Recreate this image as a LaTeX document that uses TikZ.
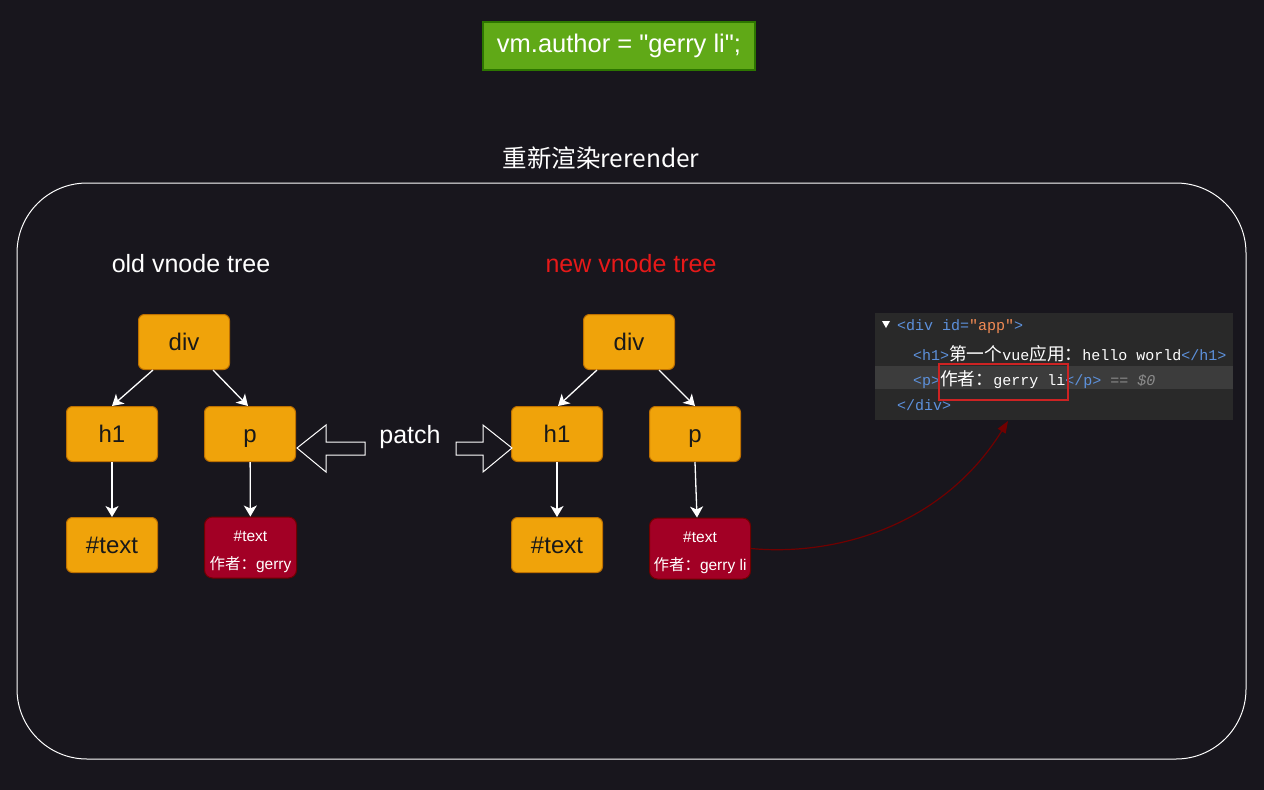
\documentclass[tikz,border=0pt]{standalone}
\usepackage{fontspec}
\setmainfont{Liberation Sans}[Ligatures=TeXOff]
\setmonofont{Liberation Mono}
\newfontfamily\cjk{Noto Sans CJK SC}
\usetikzlibrary{arrows.meta}

\definecolor{fondo}{RGB}{24,22,29}
\definecolor{naranja}{HTML}{F0A30A}
\definecolor{naranjaborde}{HTML}{BD7000}
\definecolor{rojo}{HTML}{A20025}
\definecolor{rojoborde}{HTML}{6F0000}
\definecolor{verde}{HTML}{60A917}
\definecolor{verdeborde}{HTML}{2D7600}
\definecolor{titulorojo}{RGB}{230,25,25}
\definecolor{panel}{RGB}{41,41,41}
\definecolor{panelfila}{RGB}{60,60,60}
\definecolor{tagazul}{RGB}{93,145,220}
\definecolor{attnaranja}{RGB}{242,139,84}
\definecolor{gristxt}{RGB}{140,140,140}
\definecolor{marcorojo}{RGB}{205,35,35}
\definecolor{curva}{RGB}{112,0,0}

\newcommand{\zhcod}[1]{{\cjk\fontsize{17.7}{18}\selectfont #1}}

\begin{document}
\begin{tikzpicture}[x=1pt,y=-1pt,
  vnode/.style={draw=naranjaborde, fill=naranja, rounded corners=6pt, line width=1pt,
    minimum width=91pt, minimum height=55pt, text height=19pt, text depth=3pt,
    font=\fontsize{24}{28}\selectfont, text=black!90},
  textnode/.style={draw=rojoborde, fill=rojo, rounded corners=8pt, line width=1pt,
    minimum height=61pt, text=white, align=center, font=\fontsize{15.5}{28}\selectfont},
  flecha/.style={draw=white, line width=1.3pt, -{Stealth[length=11pt,width=13pt,inset=3pt]}},
  bloque/.style={draw=white, fill=fondo, line width=1pt, line join=miter},
  titulo/.style={font=\fontsize{25}{28}\selectfont},
  codigo/.style={anchor=west, inner sep=0pt, text=white!88, font=\ttfamily\fontsize{15}{17}\selectfont}]

% Fondo
\fill[fondo] (0,0) rectangle (1264,790);

% Asignacion
\node (asignar) at (619,46) [draw=verdeborde, fill=verde, line width=1.5pt, minimum width=272pt,
  minimum height=48pt, text=white, font=\fontsize{25.5}{28}\selectfont]
  {vm.author = "gerry li";};

% Marco del rerender
\draw[white, line width=1pt, rounded corners=70pt] (17,183) rectangle (1246,759);
\node (rerender) at (601,158) [text=white, font=\cjk\fontsize{24.5}{28}\selectfont] {重新渲染rerender};

% Titulos de los arboles
\node (viejo) at (191,264) [titulo, text=white] {old vnode tree};
\node (nuevo) at (631,264) [titulo, text=titulorojo] {new vnode tree};

% Arbol viejo
\node (odiv) at (184,342) [vnode] {div};
\node (oh1) at (112,434) [vnode] {h1};
\node (op) at (250,434) [vnode] {p};
\node (otxt) at (112,545) [vnode] {\#text};
\node (otxt2) at (250.5,547.5) [textnode, minimum width=92pt] {\rule{0pt}{20pt}\#text\\{\cjk 作者：}gerry};

\draw[flecha] ([xshift=15pt]odiv.south west) -- (oh1.north);
\draw[flecha] ([xshift=-17pt]odiv.south east) -- ([xshift=-2pt]op.north);
\draw[flecha] (oh1) -- (otxt);
\draw[flecha] (op) -- (otxt2);

% Arbol nuevo
\node (ndiv) at (629,342) [vnode] {div};
\node (nh1) at (557,434) [vnode] {h1};
\node (np) at (695,434) [vnode] {p};
\node (ntxt) at (557,545) [vnode] {\#text};
\node (ntxt2) at (700,548.5) [textnode, minimum width=101pt] {\rule{0pt}{20pt}\#text\\{\cjk 作者：}gerry li};

\draw[flecha] ([xshift=14pt]ndiv.south west) -- ([xshift=1pt]nh1.north);
\draw[flecha] ([xshift=-16pt]ndiv.south east) -- (np.north);
\draw[flecha] (nh1) -- (ntxt);
\draw[flecha] (np.south) -- ([xshift=-3pt]ntxt2.north);

% Patch
\node (patch) at (410,437) [titulo, text=white] {patch};
\draw[bloque] (297,448) -- (326,425) -- (326,442) -- (365,442) -- (365,455) -- (326,455) -- (326,472) -- cycle;
\draw[bloque] (512,448) -- (483,425) -- (483,442) -- (456,442) -- (456,455) -- (483,455) -- (483,472) -- cycle;

% Captura del DOM
\begin{scope}
\clip (875,313) rectangle (1233,420);
\fill[panel] (875,313) rectangle (1233,420);
\fill[panelfila] (875,366) rectangle (1233,389);
\fill[white!75] (882,321) -- (890,321) -- (886,328) -- cycle;
\node (linea1) at (897,327) [codigo] {{\color{tagazul}<div id=}{\color{attnaranja}"app"}{\color{tagazul}>}};
\node (linea2) at (913,354) [codigo] {{\color{tagazul}<h1>}\zhcod{第一个}vue\zhcod{应用：}hello world{\color{tagazul}</h1>}};
\node (linea3) at (913,380) [codigo] {{\color{tagazul}<p>}\zhcod{作者：}gerry li{\color{tagazul}</p>} {\color{gristxt}\itshape == \$0}};
\node (linea4) at (897,405) [codigo] {{\color{tagazul}</div>}};
\draw[marcorojo, line width=1.5pt] (939,364) rectangle (1068,400);
\end{scope}

% Conexion al DOM
\coordinate (dom) at (1008,421);
\draw[curva, line width=1.2pt, -{Triangle[length=12pt,width=9pt]}]
  (ntxt2.east) .. controls (830,556) and (940,530) .. (dom);

\end{tikzpicture}
\end{document}
